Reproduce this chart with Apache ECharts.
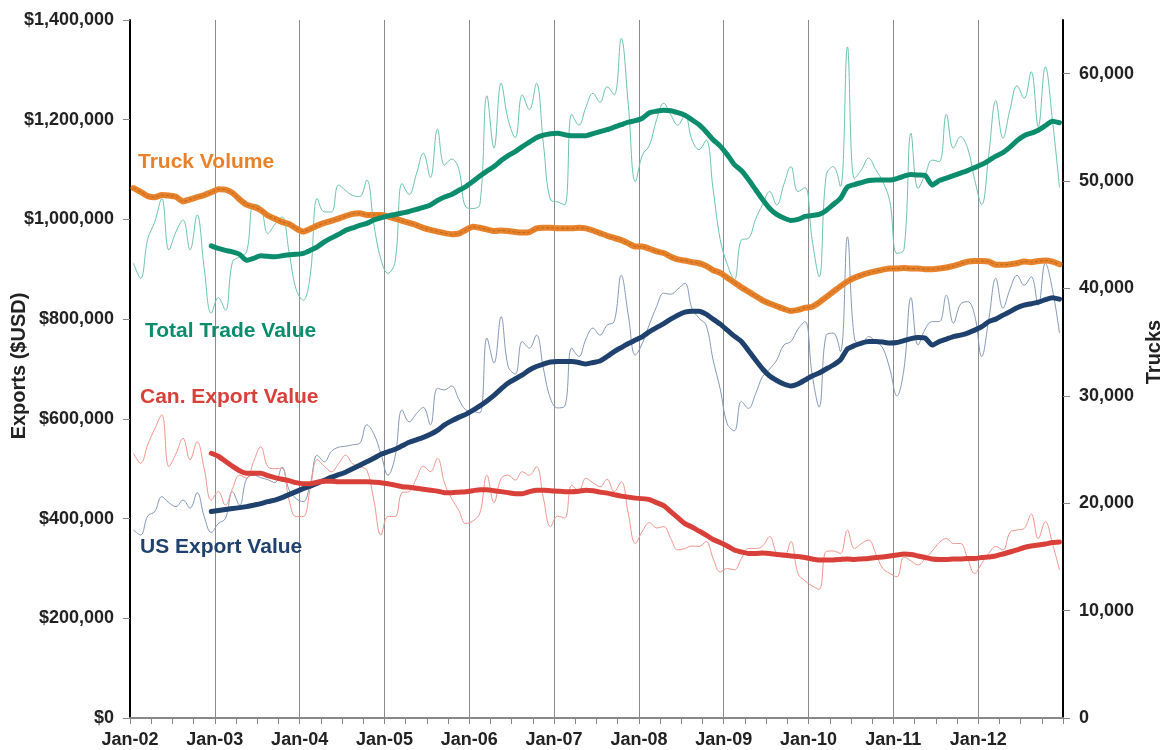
<!DOCTYPE html>
<html><head><meta charset="utf-8">
<script src="https://cdn.jsdelivr.net/npm/echarts@6/dist/echarts.min.js"></script>
<style>html,body{margin:0;padding:0;background:#fff}#c{width:1168px;height:750px}</style>
</head><body><div id="c"></div>
<script>
// Monthly data Jan-02 .. Dec-12 (132 months). Dollar values in thousands of USD.
const totalTradeK = [912,882,960,995,1042,939,975,999,939,1009,
 902,812,843,818,915,925,935,1030,1025,972,
 990,1005,935,860,838,888,1042,1015,1015,1069,
 1058,1048,1046,1079,990,920,892,915,1072,1050,
 1090,1133,1084,1181,1109,1121,1102,1025,1022,1030,
 1248,1143,1273,1200,1164,1250,1220,1273,1150,1039,
 1035,1029,1211,1189,1225,1253,1235,1266,1250,1363,
 1230,1076,1129,1149,1200,1233,1210,1189,1209,1160,
 1140,1159,1060,960,910,879,959,962,1000,1030,
 1056,1029,1070,1106,1056,1064,960,885,1089,1106,
 1066,1346,1082,1100,1123,1100,1076,1036,932,939,
 1173,1062,1090,1119,1116,1211,1143,1166,1143,1080,
 1030,1130,1238,1163,1220,1268,1243,1296,1186,1306,
 1200,1064];
const usExportK = [377,367,405,414,444,432,424,437,421,452,
 404,372,390,400,454,427,480,487,482,478,
 472,503,458,440,434,470,527,514,535,543,
 545,548,551,588,570,530,487,524,618,594,
 610,623,588,661,658,666,640,618,615,612,
 762,712,805,705,690,755,742,768,700,640,
 622,625,742,725,760,782,768,788,795,888,
 808,728,752,790,825,852,850,860,872,822,
 802,788,718,660,590,576,635,621,650,685,
 700,718,748,755,780,795,690,624,768,772,
 735,965,760,750,765,755,742,700,646,700,
 843,748,780,795,795,848,792,830,835,808,
 725,800,882,822,860,888,868,885,828,912,
 860,772];
const canExportK = [531,511,548,580,608,504,530,561,518,554,
 500,437,454,427,460,487,481,515,544,504,
 500,501,437,404,404,460,518,505,494,510,
 527,510,504,497,437,367,404,404,452,454,
 480,505,494,521,471,440,417,390,395,411,
 487,432,480,487,477,494,487,504,440,384,
 405,401,467,455,481,472,464,479,454,474,
 410,350,375,392,381,384,360,337,340,345,
 344,354,320,293,300,297,320,340,340,345,
 364,330,322,354,290,275,265,258,334,335,
 330,377,340,350,357,330,300,290,283,323,
 315,307,320,335,352,360,350,350,320,290,
 310,330,344,337,372,377,380,409,360,394,
 350,297];
// 12-month moving averages, starting at month index 11 (Dec-02)
const MA_START = 11;
const totalTradeMAK = [947,942,938,935,930,918,922,927,926,925,
 927,929,930,932,938,945,955,963,970,978,
 983,988,992,999,1003,1007,1010,1013,1016,1020,
 1024,1029,1038,1045,1050,1058,1066,1076,1087,1097,
 1106,1118,1128,1136,1146,1155,1164,1169,1172,1173,
 1170,1168,1168,1168,1172,1176,1180,1185,1190,1195,
 1198,1203,1214,1217,1219,1218,1214,1209,1200,1190,
 1176,1160,1147,1130,1110,1098,1080,1060,1040,1022,
 1010,1003,998,1000,1006,1008,1010,1018,1030,1042,
 1065,1070,1074,1078,1079,1079,1079,1082,1087,1090,
 1089,1088,1069,1078,1083,1088,1093,1098,1104,1110,
 1118,1127,1134,1145,1158,1168,1173,1179,1188,1197,
 1194];
const usExportMAK = [414,416,418,420,422,424,427,430,434,437,
 442,448,454,460,465,471,477,483,488,493,
 500,507,514,521,529,534,539,546,553,558,
 563,569,577,588,596,603,609,617,626,636,
 647,660,672,680,688,698,705,710,714,715,
 715,715,713,710,713,716,725,735,743,751,
 758,765,775,783,791,800,808,814,816,816,
 810,800,790,778,766,755,737,718,700,686,
 677,670,666,670,678,686,692,700,708,718,
 740,747,752,755,755,754,752,753,757,761,
 763,762,748,755,760,765,768,772,778,785,
 795,800,808,815,823,828,831,834,839,843,
 840];
const canExportMAK = [531,525,515,505,496,491,491,491,486,482,
 479,476,472,470,470,473,475,475,474,474,
 474,474,474,473,472,470,467,464,463,461,
 459,457,455,452,452,453,454,456,458,458,
 456,454,452,450,450,454,457,457,456,455,
 454,454,455,457,456,453,451,448,445,443,
 441,440,438,432,426,414,402,390,383,375,
 367,358,352,345,337,333,330,330,331,330,
 328,327,325,324,322,319,317,317,317,318,
 319,318,319,320,322,323,325,327,329,328,
 325,322,319,318,318,319,319,320,320,322,
 323,325,329,333,337,342,345,347,349,352,
 353];
const truckVolume = [49350,49000,48600,48500,48700,48650,48550,48100,48300,48500,
 48700,48950,49250,49200,48900,48300,47800,47600,47300,46800,
 46500,46200,46000,45600,45300,45550,45850,46100,46300,46500,
 46750,46950,47000,46850,46850,46850,46700,46500,46300,46100,
 45900,45650,45450,45300,45150,45050,45100,45450,45750,45650,
 45500,45350,45400,45350,45250,45200,45250,45600,45650,45650,
 45600,45600,45600,45650,45600,45400,45150,44900,44700,44500,
 44200,43900,43900,43700,43450,43300,42950,42700,42600,42450,
 42350,42100,41700,41450,41000,40550,40100,39700,39300,38900,
 38600,38350,38100,37900,38000,38200,38300,38700,39200,39700,
 40200,40650,41000,41250,41450,41600,41750,41850,41850,41900,
 41850,41850,41800,41800,41850,41950,42100,42300,42500,42550,
 42550,42500,42200,42200,42250,42350,42500,42450,42550,42600,
 42500,42250];
const yearLabels = ['Jan-02','Jan-03','Jan-04','Jan-05','Jan-06','Jan-07','Jan-08','Jan-09','Jan-10','Jan-11','Jan-12'];
const seriesNames = ['Truck Volume','Total Trade Value','Can. Export Value','US Export Value'];
const axisTitles = ['Exports ($USD)', 'Trucks'];

const FONT = "'Liberation Sans', Arial, sans-serif";
const C_GREEN = '#0B8C6C', C_GREEN_T = '#6CC4AE';
const C_NAVY = '#1F416E', C_NAVY_T = '#8499B8';
const C_RED = '#D9403A', C_RED_T = '#F2968F';
const C_ORANGE = '#E8822A';

function toPts(arr, start, scale) {
  return arr.map((v, i) => [start + i + 0.5, v * scale]);
}

const chart = echarts.init(document.getElementById('c'), null, {renderer: 'canvas'});
const lbl = {fontFamily: FONT, fontWeight: 'bold', fontSize: 18, color: '#222'};

chart.setOption({
  animation: false,
  backgroundColor: '#fff',
  grid: {left: 130, right: 105, top: 20, bottom: 32, containLabel: false, outerBoundsMode: 'none'},
  xAxis: {
    type: 'value', min: 0, max: 132, interval: 12,
    axisLine: {show: true, lineStyle: {color: '#888', width: 2}},
    axisTick: {show: true, length: 6, lineStyle: {color: '#888'}},
    minorTick: {show: true, splitNumber: 4, length: 6, lineStyle: {color: '#888'}},
    splitLine: {show: true, lineStyle: {color: '#8c8c8c', width: 1}},
    axisLabel: Object.assign({}, lbl, {
      margin: 13, showMaxLabel: false,
      formatter: v => yearLabels[Math.round(v / 12)] || ''
    })
  },
  yAxis: [{
    type: 'value', min: 0, max: 1400000, interval: 200000,
    axisLine: {show: true, lineStyle: {color: '#000', width: 2}},
    axisTick: {show: true, length: 7, lineStyle: {color: '#888'}},
    splitLine: {show: false},
    axisLabel: Object.assign({}, lbl, {margin: 16,
      formatter: v => '$' + v.toLocaleString('en-US')})
  }, {
    type: 'value', min: 0, max: 65000, interval: 10000, position: 'right',
    axisLine: {show: true, lineStyle: {color: '#000', width: 2}},
    axisTick: {show: true, length: 7, lineStyle: {color: '#888'}},
    splitLine: {show: false},
    axisLabel: Object.assign({}, lbl, {margin: 16, showMaxLabel: false,
      formatter: v => v.toLocaleString('en-US')})
  }],
  series: [
    {name: 'Total Trade Value (monthly)', type: 'line', showSymbol: false, smooth: 0.4,
     data: toPts(totalTradeK, 0, 1000), lineStyle: {color: C_GREEN_T, width: 1}, z: 2},
    {name: 'US Export Value (monthly)', type: 'line', showSymbol: false, smooth: 0.4,
     data: toPts(usExportK, 0, 1000), lineStyle: {color: C_NAVY_T, width: 1}, z: 2},
    {name: 'Can. Export Value (monthly)', type: 'line', showSymbol: false, smooth: 0.4,
     data: toPts(canExportK, 0, 1000), lineStyle: {color: C_RED_T, width: 1}, z: 2},
    {name: seriesNames[0], type: 'line', yAxisIndex: 1, showSymbol: false, smooth: 0.2,
     data: toPts(truckVolume, 0, 1), lineStyle: {color: C_ORANGE, width: 6, cap: 'round'}, z: 3},
    {name: seriesNames[0] + ' core', type: 'line', yAxisIndex: 1, showSymbol: false, smooth: 0.2,
     data: toPts(truckVolume, 0, 1), lineStyle: {color: 'rgba(120,60,10,0.4)', width: 1, type: [3, 2]}, z: 4},
    {name: seriesNames[1], type: 'line', showSymbol: false, smooth: 0.2,
     data: toPts(totalTradeMAK, MA_START, 1000), lineStyle: {color: C_GREEN, width: 5, cap: 'round'}, z: 5},
    {name: seriesNames[3], type: 'line', showSymbol: false, smooth: 0.2,
     data: toPts(usExportMAK, MA_START, 1000), lineStyle: {color: C_NAVY, width: 5, cap: 'round'}, z: 5},
    {name: seriesNames[2], type: 'line', showSymbol: false, smooth: 0.2,
     data: toPts(canExportMAK, MA_START, 1000), lineStyle: {color: C_RED, width: 5, cap: 'round'}, z: 5}
  ],
  graphic: [
    {type: 'text', left: 138, top: 152, z: 10, style: {text: seriesNames[0], fill: C_ORANGE, font: 'bold 21px ' + FONT}},
    {type: 'text', left: 145, top: 321, z: 10, style: {text: seriesNames[1], fill: C_GREEN, font: 'bold 21px ' + FONT}},
    {type: 'text', left: 140, top: 387, z: 10, style: {text: seriesNames[2], fill: C_RED, font: 'bold 21px ' + FONT}},
    {type: 'text', left: 140, top: 537, z: 10, style: {text: seriesNames[3], fill: C_NAVY, font: 'bold 21px ' + FONT}},
    {type: 'text', x: 19, y: 366, rotation: Math.PI / 2, z: 10,
     style: {text: axisTitles[0], fill: '#222', font: 'bold 20px ' + FONT,
             textAlign: 'center', textVerticalAlign: 'middle', align: 'center', verticalAlign: 'middle'}},
    {type: 'text', x: 1154, y: 352, rotation: Math.PI / 2, z: 10,
     style: {text: axisTitles[1], fill: '#222', font: 'bold 20px ' + FONT,
             textAlign: 'center', textVerticalAlign: 'middle', align: 'center', verticalAlign: 'middle'}}
  ]
});
</script>
</body></html>
